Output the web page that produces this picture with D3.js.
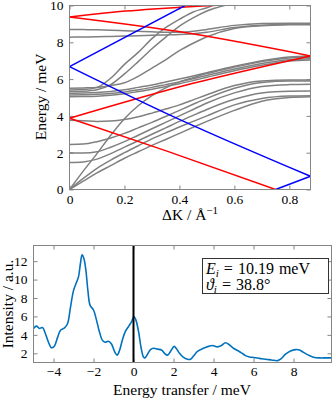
<!DOCTYPE html>
<html>
<head>
<meta charset="utf-8">
<script src="https://cdn.jsdelivr.net/npm/d3@7"></script>
<style>
  body { margin: 0; background: #fff; }
  text { font-family: "Liberation Serif", "DejaVu Serif", serif; fill: #000; }
</style>
</head>
<body>
<svg id="fig"></svg>
<script>
var width = 332, height = 398;
var svg = d3.select("#fig").attr("width", width).attr("height", height);

// ---- top panel: dispersion ----
var kGrid = [0, 0.05, 0.1, 0.15, 0.2, 0.25, 0.3, 0.35, 0.4, 0.45, 0.5, 0.6, 0.7, 0.8, 0.877];
var branches = [
  [0, 0.45, 0.9, 1.3, 1.7, 2.05, 2.4, 2.72, 3.05, 3.38, 3.7, 4.3, 4.8, 5.0, 5.04],
  [0, 0.6, 1.15, 1.6, 2.0, 2.38, 2.75, 3.08, 3.4, 3.7, 4.0, 4.6, 4.95, 5.08, 5.10],
  [1.47, 1.5, 1.65, 1.95, 2.3, 2.65, 3.0, 3.35, 3.7, 4.03, 4.35, 4.9, 5.25, 5.34, 5.35],
  [2.0, 1.98, 2.05, 2.3, 2.6, 2.95, 3.3, 3.65, 4.0, 4.35, 4.7, 5.25, 5.6, 5.7, 5.72],
  [2.45, 2.47, 2.6, 2.8, 3.05, 3.35, 3.65, 3.97, 4.3, 4.63, 4.95, 5.5, 5.82, 5.9, 5.9],
  [3.77, 3.74, 3.7, 3.72, 3.8, 3.95, 4.15, 4.37, 4.6, 4.87, 5.15, 5.65, 5.9, 5.95, 5.95],
  [0, 1.0, 1.95, 2.95, 3.85, 4.55, 5.1, 5.52, 5.85, 6.08, 6.3, 6.65, 6.95, 7.15, 7.19],
  [5.04, 5.05, 5.07, 5.12, 5.2, 5.32, 5.45, 5.6, 5.75, 5.92, 6.1, 6.45, 6.75, 6.98, 7.04],
  [5.14, 5.15, 5.17, 5.22, 5.3, 5.42, 5.55, 5.7, 5.85, 6.02, 6.2, 6.55, 6.85, 7.05, 7.11],
  [5.23, 5.24, 5.27, 5.33, 5.42, 5.55, 5.68, 5.84, 6.0, 6.17, 6.35, 6.7, 7.0, 7.2, 7.26],
  [5.41, 5.43, 5.55, 6.05, 6.8, 7.45, 8.2, 8.8, 9.25, 9.65, 9.88, 10.5, 11, 11.5, 12],
  [5.32, 5.34, 5.42, 5.7, 6.28, 6.95, 7.65, 8.28, 8.88, 9.33, 9.7, 10.15, 10.6, 11, 11.4],
  [5.5, 5.52, 5.55, 5.65, 5.8, 6.15, 6.6, 7.05, 7.55, 7.95, 8.3, 8.75, 8.9, 8.95, 8.96],
  [8.70, 8.69, 8.68, 8.66, 8.63, 8.6, 8.57, 8.55, 8.55, 8.6, 8.7, 8.92, 9.02, 9.04, 9.04],
  [8.28, 8.29, 8.3, 8.32, 8.34, 8.36, 8.38, 8.4, 8.42, 8.47, 8.55, 8.8, 8.93, 8.98, 8.99]
];

// scan curves, [dK, E]
var redLines = [
  [[0, 3.87], [0.352, 2.1], [0.75, 0]],
  [[0, 3.87], [0.45, 5.77], [0.877, 7.26]],
  [[0, 9.37], [0.43, 8.5], [0.877, 7.26]],
  [[0, 9.37], [0.148, 9.62], [0.35, 9.85], [0.52, 10.0], [0.6, 10.07]]
];
var blueLines = [
  [[0, 6.68], [0.45, 10.23]],
  [[0, 6.68], [0.352, 4.14], [0.877, 0.72]],
  [[0.75, 0], [0.877, 0.72]]
];
var kTicks = [0, 0.2, 0.4, 0.6, 0.8];
var eTicks = [0, 2, 4, 6, 8, 10];

// ---- bottom panel: time-of-flight spectrum ----
var dE = [-5.0, -4.85, -4.7, -4.55, -4.4, -4.25, -4.1, -3.95, -3.8, -3.65, -3.45, -3.3, -3.15, -3.0, -2.85,
  -2.75, -2.65, -2.57, -2.48, -2.38, -2.28, -2.17, -2.0, -1.85, -1.7, -1.55, -1.42, -1.25, -1.1, -0.95,
  -0.82, -0.7, -0.55, -0.4, -0.25, -0.1, 0.02, 0.12, 0.25, 0.38, 0.5, 0.58, 0.7, 0.85, 1.0,
  1.2, 1.4, 1.55, 1.7, 1.85, 2.03, 2.15, 2.3, 2.5, 2.7, 2.85, 3.0, 3.2, 3.5, 3.75,
  3.95, 4.2, 4.4, 4.6, 4.8, 5.0, 5.2, 5.4, 5.6, 5.8, 6.0, 6.3, 6.6, 6.9, 7.2,
  7.4, 7.6, 7.85, 8.1, 8.3, 8.5, 8.75, 9.0, 9.3, 9.6, 9.9];
var intensity = [4.7, 4.95, 4.7, 4.8, 4.1, 3.2, 2.6, 2.8, 3.7, 4.5, 4.75, 5.2, 7.0, 8.8, 9.7,
  10.3, 11.8, 12.7, 12.3, 11.0, 8.8, 7.2, 6.7, 5.6, 4.3, 3.4, 3.2, 3.3, 3.0, 2.2,
  1.8, 2.3, 3.5, 4.4, 4.9, 5.4, 6.0, 5.6, 4.4, 2.6, 1.6, 1.5, 1.9, 2.4, 2.55,
  2.45, 2.35, 2.0, 1.8, 2.2, 2.75, 2.5, 2.0, 1.55, 1.35, 1.35, 1.7, 2.2, 2.55, 2.75,
  2.85, 2.7, 2.85, 3.15, 2.9, 2.55, 2.3, 2.05, 1.75, 1.6, 1.55, 1.45, 1.35, 1.28, 1.2,
  1.45, 1.9, 2.25, 2.4, 2.35, 2.1, 1.8, 1.58, 1.5, 1.5, 1.5];
var dETicks = [-4, -2, 0, 2, 4, 6, 8];
var iTicks = [2, 4, 6, 8, 10, 12];

var axisColor = "#858585";

function styleAxis(g) {
  g.selectAll(".domain").remove();
  g.selectAll(".tick line").attr("stroke", axisColor);
  g.selectAll("text").attr("font-size", 13.5).attr("fill", "#000")
    .style("font-family", "'Liberation Serif', serif");
}

function frame(x, y, xt, yt, xfmt, clipId, pad) {
  var x0 = x.range()[0], x1 = x.range()[1], y0 = y.range()[0], y1 = y.range()[1];
  svg.append("defs").append("clipPath").attr("id", clipId)
    .append("rect").attr("x", x0).attr("y", y1).attr("width", x1 - x0).attr("height", y0 - y1);
  svg.append("g").attr("transform", "translate(0," + y0 + ")")
    .call(d3.axisBottom(x).tickValues(xt).tickSize(-4).tickPadding(pad).tickFormat(xfmt)).call(styleAxis);
  svg.append("g").attr("transform", "translate(0," + y1 + ")")
    .call(d3.axisTop(x).tickValues(xt).tickSize(-4).tickFormat("")).call(styleAxis);
  svg.append("g").attr("transform", "translate(" + x0 + ",0)")
    .call(d3.axisLeft(y).tickValues(yt).tickSize(-4).tickPadding(6).tickFormat(d3.format("d"))).call(styleAxis);
  svg.append("g").attr("transform", "translate(" + x1 + ",0)")
    .call(d3.axisRight(y).tickValues(yt).tickSize(-4).tickFormat("")).call(styleAxis);
}

function box(x, y) {
  var x0 = x.range()[0], x1 = x.range()[1], y0 = y.range()[0], y1 = y.range()[1];
  svg.append("rect").attr("x", x0).attr("y", y1).attr("width", x1 - x0).attr("height", y0 - y1)
    .attr("fill", "none").attr("stroke", axisColor).attr("stroke-width", 1);
}

// top
var kScale = d3.scaleLinear().domain([0, 0.877]).range([69.5, 310.5]);
var eScale = d3.scaleLinear().domain([0, 10]).range([189.5, 5.5]);

frame(kScale, eScale, kTicks, eTicks, function(d) { return d === 0 ? "0" : d3.format(".1f")(d); }, "clipTop", 5);

var dispLine = d3.line().x(function(d) { return kScale(d[0]); }).y(function(d) { return eScale(d[1]); })
  .curve(d3.curveMonotoneX);

var gTop = svg.append("g").attr("clip-path", "url(#clipTop)");
gTop.selectAll(".branch").data(branches).enter().append("path")
  .attr("d", function(b) { return dispLine(b.map(function(e, i) { return [kGrid[i], e]; })); })
  .attr("fill", "none").attr("stroke", "#808080").attr("stroke-width", 1.5);
gTop.selectAll(".red").data(redLines).enter().append("path")
  .attr("d", dispLine).attr("fill", "none").attr("stroke", "#ff0000").attr("stroke-width", 1.5);
gTop.selectAll(".blue").data(blueLines).enter().append("path")
  .attr("d", dispLine).attr("fill", "none").attr("stroke", "#0000ff").attr("stroke-width", 1.5);
box(kScale, eScale);

svg.append("text").attr("transform", "translate(46,97) rotate(-90)").attr("text-anchor", "middle")
  .attr("font-size", 15.5).text("Energy / meV");
var xl = svg.append("text").attr("x", 190).attr("y", 220).attr("text-anchor", "middle").attr("font-size", 15.5);
xl.append("tspan").text("ΔK / Å");
xl.append("tspan").attr("dy", -6).attr("font-size", 11).text("−1");

// bottom
var xScale = d3.scaleLinear().domain([-5, 9.9]).range([33.5, 331.5]);
var yScale = d3.scaleLinear().domain([1.0, 13.7]).range([362.5, 245.5]);

frame(xScale, yScale, dETicks, iTicks, d3.format("d"), "clipBot", 4);

var specLine = d3.line().x(function(d, i) { return xScale(dE[i]); }).y(function(d) { return yScale(d); })
  .curve(d3.curveCatmullRom);
var gBot = svg.append("g").attr("clip-path", "url(#clipBot)");
gBot.append("path").datum(intensity).attr("d", specLine)
  .attr("fill", "none").attr("stroke", "#0072BD").attr("stroke-width", 1.6);
gBot.append("line").attr("x1", xScale(0)).attr("x2", xScale(0))
  .attr("y1", yScale.range()[0]).attr("y2", yScale.range()[1])
  .attr("stroke", "#000").attr("stroke-width", 2);
box(xScale, yScale);

svg.append("text").attr("transform", "translate(13,304) rotate(-90)").attr("text-anchor", "middle")
  .attr("font-size", 15.5).text("Intensity / a.u.");
svg.append("text").attr("x", 182).attr("y", 395).attr("text-anchor", "middle")
  .attr("font-size", 15.5).text("Energy transfer / meV");

// legend box
svg.append("rect").attr("x", 202.5).attr("y", 258.5).attr("width", 126).attr("height", 35)
  .attr("fill", "#fff").attr("stroke", "#333").attr("stroke-width", 1);
var t1 = svg.append("text").attr("x", 206).attr("y", 274).attr("font-size", 16);
t1.append("tspan").attr("font-style", "italic").text("E");
t1.append("tspan").attr("font-style", "italic").attr("font-size", 11).attr("dy", 3).text("i");
t1.append("tspan").attr("dy", -3).attr("dx", 5).text("=");
t1.append("tspan").attr("dx", 5).text("10.19");
t1.append("tspan").attr("dx", 5).text("meV");
var t2 = svg.append("text").attr("x", 206).attr("y", 290).attr("font-size", 16);
t2.append("tspan").attr("font-style", "italic").text("ϑ");
t2.append("tspan").attr("font-style", "italic").attr("font-size", 11).attr("dy", 3).text("i");
t2.append("tspan").attr("dy", -3).attr("dx", 5).text("=");
t2.append("tspan").attr("dx", 5).text("38.8°");
</script>
</body>
</html>
